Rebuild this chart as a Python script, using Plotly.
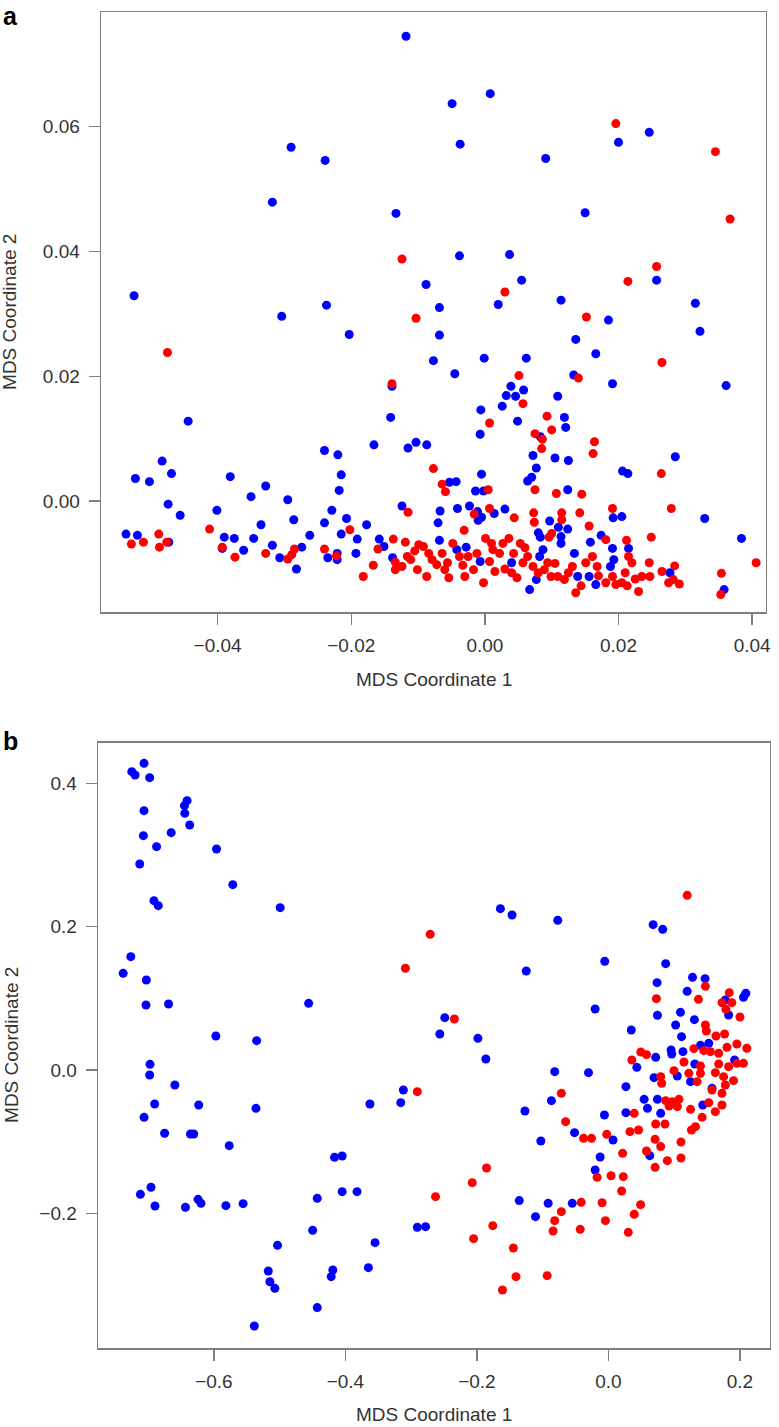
import plotly.graph_objects as go

# ---------------- Panel a data ----------------
a_blue_x = [-0.0290, -0.0239, -0.0318, -0.0133, -0.0525, -0.0237, -0.0118, -0.0049, 0.0008, 0.0246,
            0.0200, -0.0037, 0.0091, 0.0150, -0.0038, 0.0037, -0.0088, 0.0055, 0.0257, -0.0068,
            0.0020, 0.0114, 0.0315, -0.0304, -0.0203, -0.0139, -0.0444, -0.0141, -0.0166, -0.0483,
            -0.0523, -0.0502, -0.0469, -0.0474, -0.0456, -0.0240, -0.0220, -0.0215, -0.0218, -0.0229,
            -0.0207, -0.0240, -0.0177, -0.0215, -0.0191, -0.0158, -0.0151, -0.0138, -0.0193, -0.0221,
            -0.0221, -0.0235, -0.0295, -0.0328, -0.0350, -0.0381, -0.0401, -0.0286, -0.0335, -0.0262,
            -0.0346, -0.0375, -0.0390, -0.0393, -0.0361, -0.0318, -0.0307, -0.0274, -0.0282, -0.0537,
            -0.0520, -0.0473, -0.0068, 0.0185, 0.0322, 0.0136, 0.0166, -0.0077, -0.0001, 0.0062,
            -0.0045, 0.0133, 0.0191, 0.0361, 0.0039, 0.0058, 0.0032, 0.0046, 0.0109, 0.0026,
            -0.0006, 0.0049, 0.0119, 0.0121, -0.0007, 0.0083, -0.0103, -0.0115, -0.0087, 0.0285,
            0.0072, 0.0105, 0.0125, 0.0077, 0.0206, 0.0214, -0.0005, 0.0070, 0.0064, -0.0053,
            -0.0043, -0.0014, -0.0002, 0.0124, 0.0192, 0.0205, 0.0329, 0.0384, 0.0358, -0.0124,
            -0.0067, -0.0070, -0.0041, -0.0023, -0.0011, -0.0005, -0.0010, 0.0014, 0.0030, 0.0097,
            0.0110, 0.0124, 0.0114, 0.0114, 0.0080, 0.0083, 0.0174, 0.0191, 0.0215, 0.0158,
            -0.0068, -0.0042, -0.0028, -0.0007, 0.0040, 0.0067, 0.0077, 0.0082, 0.0087, 0.0134,
            0.0139, 0.0156, 0.0166, 0.0188, 0.0193, 0.0277]
a_blue_y = [0.0567, 0.0546, 0.0479, 0.0461, 0.0329, 0.0314, 0.0745, 0.0637, 0.0653, 0.0591,
            0.0575, 0.0572, 0.0549, 0.0462, 0.0393, 0.0395, 0.0347, 0.0354, 0.0354, 0.0310,
            0.0315, 0.0322, 0.0317, 0.0296, 0.0267, 0.0184, 0.0128, 0.0134, 0.0090, 0.0064,
            0.0036, 0.0031, 0.0044, -0.0005, -0.0023, 0.0081, 0.0074, 0.0042, 0.0017, -0.0015,
            -0.0028, -0.0035, -0.0038, -0.0053, -0.0061, -0.0061, -0.0073, -0.0091, -0.0084, -0.0084,
            -0.0094, -0.0091, 0.0002, 0.0024, 0.0007, 0.0039, -0.0015, -0.0030, -0.0038, -0.0055,
            -0.0060, -0.0060, -0.0058, -0.0076, -0.0079, -0.0071, -0.0091, -0.0074, -0.0109, -0.0053,
            -0.0055, -0.0066, 0.0266, 0.0290, 0.0272, 0.0259, 0.0236, 0.0225, 0.0229, 0.0229,
            0.0204, 0.0202, 0.0188, 0.0185, 0.0184, 0.0178, 0.0169, 0.0168, 0.0168, 0.0152,
            0.0146, 0.0128, 0.0134, 0.0118, 0.0107, 0.0103, 0.0094, 0.0085, 0.0090, 0.0071,
            0.0073, 0.0069, 0.0065, 0.0053, 0.0048, 0.0044, 0.0043, 0.0038, 0.0032, 0.0030,
            0.0031, 0.0016, 0.0016, 0.0018, -0.0027, -0.0025, -0.0028, -0.0060, -0.0142, -0.0008,
            -0.0016, -0.0035, -0.0012, -0.0008, -0.0017, -0.0026, -0.0031, -0.0020, -0.0013, -0.0032,
            -0.0042, -0.0045, -0.0057, -0.0068, -0.0051, -0.0058, -0.0055, -0.0076, -0.0076, -0.0066,
            -0.0063, -0.0078, -0.0074, -0.0097, -0.0099, -0.0142, -0.0126, -0.0089, -0.0078, -0.0084,
            -0.0121, -0.0121, -0.0134, -0.0105, -0.0094, -0.0115]

a_red_x = [-0.0124, 0.0196, 0.0345, 0.0367, 0.0257, 0.0214, 0.0030, -0.0475, -0.0139, -0.0202,
           -0.0160, -0.0137, -0.0134, -0.0134, -0.0167, -0.0182, -0.0222, -0.0240, -0.0412, -0.0393,
           -0.0374, -0.0328, -0.0295, -0.0289, -0.0285, -0.0529, -0.0511, -0.0488, -0.0487, -0.0476,
           -0.0103, 0.0152, 0.0265, 0.0051, 0.0140, 0.0057, 0.0007, 0.0093, 0.0100, 0.0075,
           0.0086, 0.0085, 0.0164, 0.0162, -0.0077, 0.0264, -0.0064, -0.0059, 0.0005, 0.0075,
           0.0107, 0.0145, 0.0191, 0.0279, 0.0406, 0.0354, 0.0353, -0.0115, -0.0016, 0.0007,
           0.0044, 0.0073, 0.0074, 0.0115, 0.0115, 0.0142, 0.0156, 0.0096, 0.0100, 0.0181,
           -0.0031, 0.0212, 0.0249, -0.0119, -0.0116, -0.0111, -0.0124, -0.0101, -0.0099, -0.0092,
           -0.0087, -0.0084, -0.0079, -0.0072, -0.0064, -0.0056, -0.0054, -0.0048, -0.0038, -0.0033,
           -0.0030, -0.0025, -0.0017, -0.0012, -0.0002, 0.0001, 0.0010, 0.0007, 0.0015, 0.0022,
           0.0027, 0.0030, 0.0036, 0.0043, 0.0048, 0.0053, 0.0057, 0.0064, 0.0072, 0.0089,
           0.0094, 0.0099, 0.0109, 0.0119, 0.0131, 0.0136, 0.0144, 0.0151, 0.0161, 0.0168,
           0.0181, 0.0191, 0.0196, 0.0205, 0.0213, 0.0215, 0.0220, 0.0230, 0.0235, 0.0246,
           0.0247, 0.0265, 0.0284, 0.0282, 0.0275, 0.0291, -0.0105, -0.0060, 0.0012, 0.0040,
           0.0060, 0.0080, 0.0105, 0.0125, 0.0170, 0.0210, 0.0225]
a_red_y = [0.0388, 0.0605, 0.0560, 0.0452, 0.0376, 0.0352, 0.0335, 0.0238, 0.0188, -0.0046,
           -0.0077, -0.0061, -0.0098, -0.0110, -0.0103, -0.0121, -0.0088, -0.0077, -0.0045, -0.0074,
           -0.0090, -0.0084, -0.0093, -0.0086, -0.0077, -0.0069, -0.0066, -0.0053, -0.0074, -0.0066,
           0.0293, 0.0295, 0.0222, 0.0201, 0.0197, 0.0156, 0.0125, 0.0136, 0.0114, 0.0108,
           0.0099, 0.0084, 0.0095, 0.0076, 0.0052, 0.0044, 0.0027, 0.0015, 0.0018, 0.0018,
           0.0012, 0.0011, -0.0012, -0.0012, -0.0099, -0.0116, -0.0150, -0.0018, -0.0021, -0.0012,
           -0.0027, -0.0019, -0.0034, -0.0019, -0.0030, -0.0019, -0.0040, -0.0058, -0.0052, -0.0062,
           -0.0047, -0.0063, -0.0058, -0.0066, -0.0089, -0.0094, -0.0105, -0.0110, -0.0070, -0.0073,
           -0.0121, -0.0084, -0.0094, -0.0102, -0.0084, -0.0099, -0.0123, -0.0068, -0.0089, -0.0103,
           -0.0121, -0.0089, -0.0110, -0.0084, -0.0131, -0.0060, -0.0068, -0.0097, -0.0113, -0.0084,
           -0.0068, -0.0109, -0.0060, -0.0084, -0.0123, -0.0068, -0.0099, -0.0089, -0.0105, -0.0110,
           -0.0099, -0.0121, -0.0121, -0.0126, -0.0105, -0.0147, -0.0136, -0.0099, -0.0089, -0.0105,
           -0.0131, -0.0121, -0.0134, -0.0131, -0.0136, -0.0089, -0.0099, -0.0145, -0.0121, -0.0099,
           -0.0121, -0.0113, -0.0104, -0.0126, -0.0131, -0.0133, -0.0080, -0.0110, -0.0078, -0.0115,
           -0.0075, -0.0115, -0.0100, -0.0115, -0.0120, -0.0115, -0.0125]

# ---------------- Panel b data ----------------
b_blue_x = [-0.7063, -0.7249, -0.7199, -0.6977, -0.6408, -0.6448, -0.6443, -0.6368, -0.7063, -0.7073,
            -0.6650, -0.6872, -0.7128, -0.5960, -0.5713, -0.6912, -0.6846, -0.4992, -0.7264, -0.7380,
            -0.7028, -0.7033, -0.6690, -0.4559, -0.5970, -0.5350, -0.6972, -0.6977, -0.6594, -0.1642,
            -0.1465, -0.0770, 0.0681, 0.0827, -0.1249, -0.0055, 0.0872, 0.0741, 0.1280, 0.1471,
            0.1199, 0.2091, 0.2055, 0.1779, 0.1829, -0.0201, -0.2488, -0.2564, -0.1984, -0.1864,
            0.0348, 0.0746, 0.1097, 0.1309, 0.1023, 0.1113, 0.0954, 0.0964, 0.1135, 0.0720,
            0.0433, 0.1401, 0.1527, 0.1920, 0.1315, 0.1048, 0.1250, 0.1577, 0.0695, -0.0816,
            -0.0302, -0.3118, 0.0267, -0.3158, -0.0866, -0.1269, -0.0514, -0.1027, -0.0060, 0.0267,
            0.0071, -0.0125, -0.0201, 0.0544, 0.0595, 0.0746, 0.0796, 0.1436, 0.0630, -0.1355,
            -0.0916, -0.0549, -0.1108, -0.2906, -0.2780, -0.6901, -0.6231, -0.5360, -0.7062, -0.6750,
            -0.6357, -0.6307, -0.5767, -0.3627, -0.4165, -0.4049, -0.6957, -0.7118, -0.6896, -0.6433,
            -0.6241, -0.6196, -0.5818, -0.5556, -0.4428, -0.4049, -0.3823, -0.4498, -0.5032, -0.5173,
            -0.5148, -0.5073, -0.4191, -0.4216, -0.4428, -0.5385, -0.3549, -0.3650]
b_blue_y = [0.4282, 0.4166, 0.4119, 0.4082, 0.3761, 0.3691, 0.3584, 0.3421, 0.3621, 0.3272,
            0.3314, 0.3118, 0.2876, 0.3086, 0.2588, 0.2364, 0.2295, 0.2267, 0.1582, 0.1350,
            0.1257, 0.0908, 0.0922, 0.0931, 0.0475, 0.0410, 0.0079, -0.0070, -0.0209, 0.2253,
            0.2164, 0.2090, 0.2029, 0.1964, 0.1382, 0.1517, 0.1485, 0.1219, 0.1294, 0.1275,
            0.1098, 0.1071, 0.1015, 0.0977, 0.0768, 0.0852, 0.0731, 0.0503, 0.0442, 0.0154,
            0.0559, 0.0763, 0.0805, 0.0703, 0.0628, 0.0465, 0.0279, 0.0223, 0.0256, 0.0177,
            0.0037, 0.0344, 0.0372, 0.0140, 0.0084, -0.0084, -0.0163, -0.0256, -0.0107, -0.0023,
            -0.0037, -0.0279, -0.0233, -0.0456, -0.0428, -0.0572, -0.0875, -0.0991, -0.0628, -0.0596,
            -0.0977, -0.1215, -0.1396, -0.0410, -0.0535, -0.0410, -0.0605, -0.0489, -0.1196, -0.1824,
            -0.1862, -0.1862, -0.2048, -0.2197, -0.2188, -0.0475, -0.0489, -0.0535, -0.0661, -0.0884,
            -0.0894, -0.0894, -0.1057, -0.0475, -0.1220, -0.1201, -0.1638, -0.1736, -0.1899, -0.1918,
            -0.1806, -0.1862, -0.1894, -0.1866, -0.1792, -0.1699, -0.1699, -0.2239, -0.2448, -0.2807,
            -0.2956, -0.3049, -0.2793, -0.2886, -0.3318, -0.3575, -0.2411, -0.2760]

b_red_x = [0.1199, -0.2710, -0.3087, 0.1476, 0.0731, 0.1370, 0.1839, 0.1729, 0.1879, 0.1789,
           0.2001, -0.2342, 0.1476, 0.1491, 0.1637, 0.1768, 0.0494, 0.0580, 0.0358, 0.1150,
           0.1301, 0.1451, 0.1552, 0.1678, 0.1804, 0.1955, 0.2106, 0.2055, 0.1955, 0.1829,
           0.1678, 0.1401, 0.1401, 0.0998, 0.1224, 0.1350, 0.1627, 0.1753, 0.1904, 0.1779,
           0.0796, 0.0811, -0.2906, -0.0715, -0.0650, -0.0377, -0.0256, 0.0393, -0.0025, 0.0328,
           0.0459, 0.0217, -0.0171, 0.0041, 0.0227, 0.0202, 0.0872, 0.0973, 0.1074, 0.1049,
           0.0924, 0.0720, 0.0861, 0.1250, 0.1426, 0.1325, 0.1264, 0.1527, 0.1627, 0.1728,
           0.1577, 0.1728, 0.0711, 0.0796, 0.0580, 0.0897, 0.0711, 0.1104, 0.1104, -0.0413,
           -0.0095, 0.0490, 0.0394, 0.0303, -0.0045, -0.0428, -0.0715, -0.0816, -0.0841, -0.1853,
           -0.2070, -0.2629, -0.1758, -0.2050, -0.1445, -0.1405, -0.0931, -0.1611]
b_red_y = [0.2439, 0.1894, 0.1420, 0.1168, 0.0996, 0.0987, 0.1080, 0.0940, 0.0940, 0.0847,
           0.0740, 0.0712, 0.0628, 0.0545, 0.0475, 0.0503, 0.0251, 0.0214, 0.0140, 0.0112,
           0.0298, 0.0270, 0.0256, 0.0233, 0.0316, 0.0363, 0.0303, 0.0093, 0.0093, 0.0047,
           0.0084, 0.0056, -0.0047, -0.0009, -0.0047, -0.0163, -0.0037, -0.0093, -0.0149, -0.0209,
           -0.0093, -0.0186, -0.0303, -0.0326, -0.0721, -0.0954, -0.0954, -0.0605, -0.0898, -0.0861,
           -0.0838, -0.1164, -0.1499, -0.1476, -0.1489, -0.1690, -0.0428, -0.0442, -0.0410, -0.0512,
           -0.0503, -0.0754, -0.0754, -0.0549, -0.0661, -0.0791, -0.0838, -0.0456, -0.0582, -0.0489,
           -0.0279, -0.0326, -0.0968, -0.1070, -0.1131, -0.1266, -0.1359, -0.1005, -0.1229, -0.1848,
           -0.1853, -0.1880, -0.2015, -0.2267, -0.2104, -0.2225, -0.1978, -0.2104, -0.2248, -0.1368,
           -0.1573, -0.1769, -0.2174, -0.2355, -0.2485, -0.2886, -0.2872, -0.3072]

# tick values / labels
a_xticks = [-0.04, -0.02, 0.00, 0.02, 0.04]
a_yticks = [0.00, 0.02, 0.04, 0.06]
b_xticks = [-0.6, -0.4, -0.2, 0.0, 0.2]
b_yticks = [-0.2, 0.0, 0.2, 0.4]

BLUE = "#0000FF"
RED = "#FF0000"
W, H = 779, 1427
FONT = "Liberation Sans, Arial, sans-serif"
TXT = "#333333"
LINE = "#7f7f7f"

fig = go.Figure()
mk = dict(size=9, line=dict(width=0))
fig.add_trace(go.Scatter(x=a_blue_x, y=a_blue_y, mode="markers", marker=dict(color=BLUE, **mk),
                         xaxis="x", yaxis="y", showlegend=False))
fig.add_trace(go.Scatter(x=a_red_x, y=a_red_y, mode="markers", marker=dict(color=RED, **mk),
                         xaxis="x", yaxis="y", showlegend=False))
fig.add_trace(go.Scatter(x=b_blue_x, y=b_blue_y, mode="markers", marker=dict(color=BLUE, **mk),
                         xaxis="x2", yaxis="y2", showlegend=False))
fig.add_trace(go.Scatter(x=b_red_x, y=b_red_y, mode="markers", marker=dict(color=RED, **mk),
                         xaxis="x2", yaxis="y2", showlegend=False))


def px_x(p):
    return p / W


def px_y(p):
    return 1 - p / H


axis_common = dict(showgrid=False, zeroline=False, showline=True, linecolor=LINE, linewidth=1.4,
                   mirror=True, ticks="outside", ticklen=11, tickwidth=1.4, tickcolor=LINE,
                   tickfont=dict(family=FONT, size=19, color=TXT), fixedrange=True)

fig.update_layout(
    width=W, height=H,
    margin=dict(l=0, r=0, t=0, b=0),
    paper_bgcolor="white", plot_bgcolor="white",
    hovermode=False,
    xaxis=dict(domain=[px_x(101.7), px_x(771)], range=[-0.05744, 0.04208], anchor="y",
               tickvals=a_xticks, tickformat=".2f", ticklabelstandoff=4, **axis_common),
    yaxis=dict(domain=[px_y(612.3), px_y(12.3)], range=[-0.01784, 0.07834], anchor="x",
               tickvals=a_yticks, tickformat=".2f", ticklabelstandoff=5, **axis_common),
    xaxis2=dict(domain=[px_x(98.7), px_x(775)], range=[-0.7762, 0.2459], anchor="y2",
                tickvals=b_xticks, tickformat=".1f", ticklabelstandoff=4, **axis_common),
    yaxis2=dict(domain=[px_y(1348.3), px_y(742.7)], range=[-0.3886, 0.4570], anchor="x2",
                tickvals=b_yticks, tickformat=".1f", ticklabelstandoff=5, **axis_common),
)

ann_font = dict(family=FONT, size=19, color=TXT)
annotations = [
    dict(text="MDS Coordinate 1", x=px_x(436.4), y=px_y(680), xref="paper", yref="paper",
         xanchor="center", yanchor="middle", showarrow=False, font=ann_font),
    dict(text="MDS Coordinate 2", x=px_x(9), y=px_y(312), xref="paper", yref="paper",
         xanchor="center", yanchor="middle", showarrow=False, textangle=-90, font=ann_font),
    dict(text="MDS Coordinate 1", x=px_x(436.9), y=0, xref="paper", yref="paper",
         xanchor="center", yanchor="bottom", showarrow=False, font=ann_font),
    dict(text="MDS Coordinate 2", x=px_x(11), y=px_y(1045), xref="paper", yref="paper",
         xanchor="center", yanchor="middle", showarrow=False, textangle=-90, font=ann_font),
    dict(text="<b>a</b>", x=px_x(1), y=1, xref="paper", yref="paper",
         xanchor="left", yanchor="top", showarrow=False,
         font=dict(family=FONT, size=25, color="#000000")),
    dict(text="<b>b</b>", x=px_x(1), y=px_y(741), xref="paper", yref="paper",
         xanchor="left", yanchor="middle", showarrow=False,
         font=dict(family=FONT, size=25, color="#000000")),
]
fig.update_layout(annotations=annotations)

fig.write_html("out.html",
               config={"displayModeBar": False, "staticPlot": True},
               post_script="document.body.style.margin='0px';document.body.style.overflow='hidden';")
